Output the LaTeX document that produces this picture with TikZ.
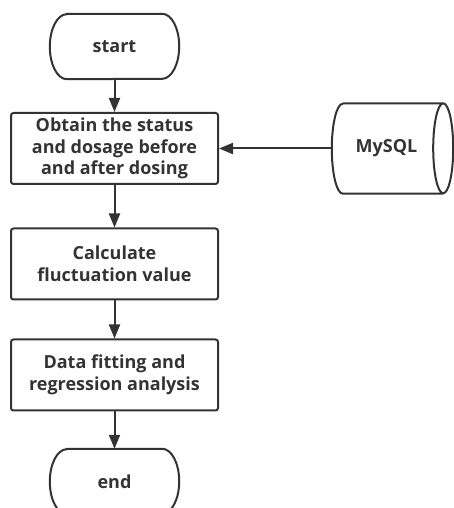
\documentclass[tikz,border=0pt]{standalone}
\usepackage{fontspec}
\setmainfont{Open Sans}
\usetikzlibrary{arrows.meta}
\definecolor{ink}{HTML}{333333}
\tikzset{
  line/.style={draw=ink, line width=2pt},
  flow/.style={line, -{Triangle[length=14pt,width=11pt]}},
  txt/.style={text=ink, font=\bfseries\fontsize{18}{21.5}\selectfont, align=center, inner sep=0pt},
  procbox/.style={txt, line, rounded corners=2.5pt, minimum width=207pt, minimum height=71pt},
  termbox/.style={txt, minimum width=129pt, minimum height=65pt},
}
\newcommand{\termshape}[1]{%
  \draw[line] ([xshift=17pt]#1.north west) -- ([xshift=-17pt]#1.north east)
    arc[start angle=90,end angle=-90,x radius=17pt,y radius=32.5pt]
    -- ([xshift=17pt]#1.south west)
    arc[start angle=270,end angle=90,x radius=17pt,y radius=32.5pt] -- cycle;}
\begin{document}
\begin{tikzpicture}[x=1pt,y=1pt]
\clip (0,0) rectangle (454,508);
\useasboundingbox (0,0) rectangle (454,508);
\node[termbox] (start) at (114.5,461.5) {start};
\termshape{start}
\node[procbox] (b1) at (114.5,359.5) {Obtain the status\\and dosage before\\and after dosing};
\node[procbox] (b2) at (114.5,244) {Calculate\\fluctuation value};
\node[procbox] (b3) at (114.5,133) {Data fitting and\\regression analysis};
\node[termbox] (end) at (114.5,26.5) {end};
\termshape{end}
% database cylinder
\node[txt, minimum width=121pt, minimum height=90pt] (db) at (392.5,359.5) {\hspace*{-12pt}MySQL};
\draw[line] ([xshift=11pt]db.north west) -- ([xshift=-10pt]db.north east)
  arc[start angle=90,end angle=-270,x radius=10pt,y radius=45pt]
  ([xshift=-10pt]db.south east) -- ([xshift=11pt]db.south west)
  arc[start angle=270,end angle=90,x radius=11pt,y radius=45pt];
\draw[flow] (start) -- (b1);
\draw[flow] (b1) -- (b2);
\draw[flow] (b2) -- (b3);
\draw[flow] (b3) -- (end);
\draw[flow] (db.west) -- (b1.east);
\end{tikzpicture}
\end{document}
